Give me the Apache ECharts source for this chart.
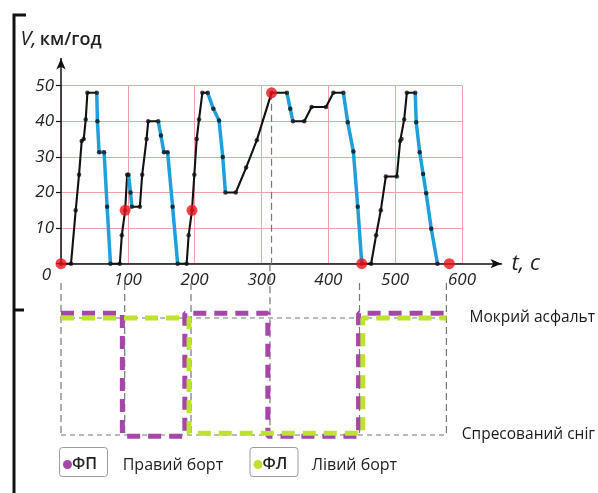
<!DOCTYPE html>
<html><head><meta charset="utf-8">
<script src="https://cdn.jsdelivr.net/npm/echarts@6/dist/echarts.min.js"></script>
<style>html,body{margin:0;padding:0;background:#fff}#c{width:598px;height:493px}</style>
</head><body><div id="c"></div>
<script>
// ---- data ----
const tSec = [0,15,22,27,31,34,37,39.5,53.5,54.5,57,64.5,69,74,88,91,96,99,101,104,106,118,121.5,128,130.5,145.5,149.5,154,159.5,167,174.5,188,191,196,199.5,203,206.5,211.5,219.5,228,236.5,242,246,261.5,277,293,315,338,343,347,364,375,396.5,407.5,422.5,429,437.5,444,450,464,471.5,478.5,486,502.5,507.5,509.5,513.5,517.5,530,531.5,536.7,541.8,546.4,554,563.3];
const vKmh = [0,0,15,25,34.5,35,40.5,48,48,40,31.3,31.3,16,0,0,8,15,25,25,20,16,16,25,35,40,40,36,31.3,31.3,16,0,0,8,15,25,35,40.5,48,48,43.5,40.2,30,20,20,27,34.7,48,48,43.5,40,40,44,44,48,48,39.7,31.5,16,0,0,8,15,24.5,24.5,34.5,35,40.5,48,48,39.7,31.3,25.2,19.8,9.8,0];
const brakingPhases = [[53.5,74],[101,106],[145.5,174.5],[219.5,246],[338,347],[422.5,450],[530,563.3]];
const redDotT = [0,96,196,315,450,581];
const redDotV = [0,15,15,48,0,0];
const guideFromDotT = [315];
const xTickLabels = ['', '100', '200', '300', '400', '500', '600'];
const rightSwitchT = [0,92.5,186.7,311.8,448.6,581];
const rightState = [1,0,1,0,1];
const leftSwitchT = [0,193,455,581];
const leftState = [1,0,1];
const surfaceLabels = ['Спресований сніг','Мокрий асфальт'];
const legendItems = [['ФП','Правий борт'],['ФЛ','Лівий борт']];

// ---- styles ----
const BLACK = '#111', BLUE = '#1f9fdb', RED = '#e8141c', PINK = '#eea3aa';
const PURPLE = '#a546a8', GREEN = '#bde22f', GRAY = '#777';
const FONT = 'Open Sans';

const chart = echarts.init(document.getElementById('c'), null, {renderer:'canvas'});

function isBraking(a, b) {
  return brakingPhases.some(p => a >= p[0] - 1e-6 && b <= p[1] + 1e-6);
}
// group consecutive segments of the same kind into runs
const runs = [];
for (let i = 0; i < tSec.length - 1; i++) {
  const br = isBraking(tSec[i], tSec[i+1]);
  const last = runs[runs.length - 1];
  if (last && last.br === br) last.pts.push([tSec[i+1], vKmh[i+1]]);
  else runs.push({br, pts: [[tSec[i], vKmh[i]], [tSec[i+1], vKmh[i+1]]]});
}

const series = [];
runs.forEach(r => series.push({
  type:'line', xAxisIndex:0, yAxisIndex:0, data:r.pts, symbol:'none', z: r.br ? 4 : 3,
  lineStyle:{color: r.br ? BLUE : BLACK, width: r.br ? 3.5 : 2.1}, silent:true, animation:false
}));
// upper guide (dashed) from red dot down to axis
guideFromDotT.forEach(t => {
  const i = redDotT.indexOf(t);
  series.push({type:'line', xAxisIndex:0, yAxisIndex:0, data:[[t, redDotV[i]],[t,0]], symbol:'none', z:2,
    lineStyle:{color:GRAY, width:1.2, type:[7,4]}, animation:false});
});
series.push({type:'scatter', xAxisIndex:0, yAxisIndex:0, data: tSec.map((t,i)=>[t, vKmh[i]]),
  symbolSize:4.5, itemStyle:{color:BLACK}, z:5, animation:false, silent:true});
series.push({type:'scatter', xAxisIndex:0, yAxisIndex:0, data: redDotT.map((t,i)=>[t, redDotV[i]]),
  symbolSize:11, itemStyle:{color:RED}, z:6, animation:false, silent:true, clip:false});

// lower panel guides
const lowerTopFromAxis = 1.46, lowerTopDefault = 1.3;
redDotT.forEach(t => {
  series.push({type:'line', xAxisIndex:1, yAxisIndex:1, clip:false,
    data:[[t, guideFromDotT.includes(t) ? lowerTopFromAxis : lowerTopDefault],[t,0]], symbol:'none', z:2,
    lineStyle:{color:GRAY, width:1.2, type:[7,4]}, animation:false});
});
[1,0].forEach(y => series.push({type:'line', xAxisIndex:1, yAxisIndex:1, clip:false,
  data:[[redDotT[0], y],[redDotT[redDotT.length-1], y]], symbol:'none', z:2,
  lineStyle:{color:GRAY, width:1.2, type:[5,4]}, animation:false}));

function stepData(ts, states, hi, lo) {
  const d = [];
  for (let i = 0; i < states.length; i++) {
    const y = states[i] ? hi : lo;
    d.push([ts[i], y]); d.push([ts[i+1], y]);
  }
  return d;
}
series.push({type:'line', xAxisIndex:1, yAxisIndex:1, clip:false, symbol:'none', z:3,
  data: stepData(rightSwitchT, rightState, 1.04, -0.01),
  lineStyle:{color:PURPLE, width:5, type:[13,8], cap:'butt'}, animation:false});
series.push({type:'line', xAxisIndex:1, yAxisIndex:1, clip:false, symbol:'none', z:4,
  data: stepData(leftSwitchT, leftState, 1.0, 0.015),
  lineStyle:{color:GREEN, width:5, type:[13,8], cap:'butt'}, animation:false});

const labelStyle = {fontFamily:FONT, fontStyle:'italic', fontSize:17, color:'#222'};

const option = {
  backgroundColor:'#fff',
  animation:false,
  grid:[
    {left:61, top:85.7, width:401, height:178},
    {left:61, top:318, width:401, height:117},
    {left:61, top:58.5, width:440.5, height:205.2}
  ],
  xAxis:[
    {gridIndex:0, type:'value', min:0, max:600, interval:100,
     axisLine:{show:false}, axisTick:{show:false},
     splitLine:{show:true, lineStyle:{color:PINK, width:1}},
     axisLabel:Object.assign({margin:8, formatter:(v)=> xTickLabels[Math.round(v/100)]}, labelStyle)},
    {gridIndex:1, type:'value', min:0, max:600, show:false},
    {gridIndex:2, type:'value', min:0, max:1, axisLabel:{show:false}, axisTick:{show:false}, splitLine:{show:false},
     axisLine:{show:true, symbol:['none','arrow'], symbolSize:[7,11], lineStyle:{color:BLACK, width:1.5}},
     name:'t, c', nameLocation:'end', nameGap:10,
     nameTextStyle:{fontFamily:FONT, fontStyle:'italic', fontSize:22, color:'#222'}}
  ],
  yAxis:[
    {gridIndex:0, type:'value', min:0, max:50, interval:10,
     axisLine:{show:false}, axisTick:{show:true, length:5, lineStyle:{color:BLACK, width:1.2}},
     splitLine:{show:true, lineStyle:{color:PINK, width:1}},
     axisLabel:Object.assign({margin:7, formatter:(v)=> v === 0 ? '{z|0}' : String(v),
       rich:{z:{padding:[22,3,0,0], fontFamily:FONT, fontStyle:'italic', fontSize:17, color:'#222'}}}, labelStyle)},
    {gridIndex:1, type:'value', min:0, max:1, interval:1, position:'right',
     axisLine:{show:false}, axisTick:{show:false}, splitLine:{show:false},
     axisLabel:{margin:136, align:'right', fontFamily:FONT, fontSize:15.5, color:'#1a1a1a',
       formatter:(v)=> surfaceLabels[Math.round(v)]}},
    {gridIndex:2, type:'value', min:0, max:1, axisLabel:{show:false}, axisTick:{show:false}, splitLine:{show:false},
     axisLine:{show:true, symbol:['none','arrow'], symbolSize:[7,11], lineStyle:{color:BLACK, width:1.5}},
     name:'{i|V,} {b|км/год}', nameLocation:'end', nameGap:9,
     nameTextStyle:{rich:{
       i:{fontFamily:FONT, fontStyle:'italic', fontSize:20, color:'#222'},
       b:{fontFamily:FONT, fontWeight:600, fontSize:18, color:'#222'}}}}
  ],
  series: series,
  graphic: [
    {type:'polyline', shape:{points:[[26,15],[14,15],[14,500]]}, style:{stroke:BLACK, lineWidth:3, fill:null}},
    {type:'line', shape:{x1:14, y1:310, x2:24, y2:310}, style:{stroke:BLACK, lineWidth:3}},
  ]
};

// legend boxes
const legendX = [[59.5, 122.7],[250, 311.7]];
const legendCol = [PURPLE, GREEN];
legendItems.forEach((it, k) => {
  const x0 = legendX[k][0];
  option.graphic.push({type:'rect', shape:{x:x0, y:447.5, width:48, height:29, r:3},
    style:{fill:'#fff', stroke:'#9a9a9a', lineWidth:1}});
  option.graphic.push({type:'circle', shape:{cx:x0+8, cy:464.5, r:4.5}, style:{fill:legendCol[k]}});
  option.graphic.push({type:'text', x:x0+12.5, y:464.5, style:{text:it[0], fontFamily:FONT, fontWeight:600,
    fontSize:16, fill:'#222', verticalAlign:'middle', align:'left'}});
  option.graphic.push({type:'text', x:legendX[k][1], y:465, style:{text:it[1], fontFamily:FONT,
    fontSize:16, fill:'#222', verticalAlign:'middle', align:'left'}});
});

chart.setOption(option);
</script>
</body></html>
